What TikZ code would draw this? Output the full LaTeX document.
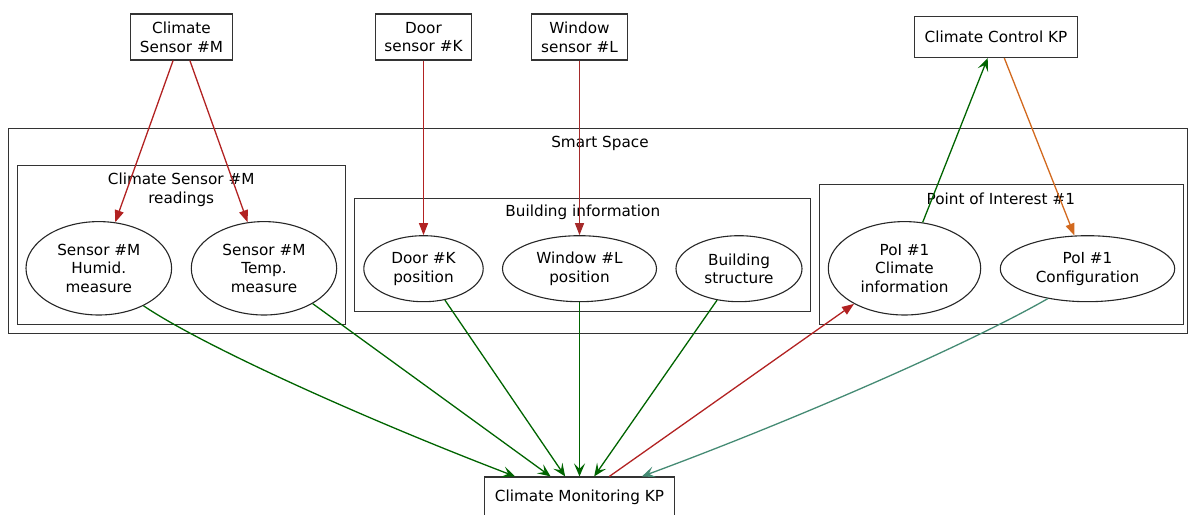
\documentclass[tikz,border=0pt]{standalone}
\usepackage{fontspec}
\setmainfont{DejaVu Sans}
\usetikzlibrary{arrows.meta,shapes.geometric}

\definecolor{firered}{HTML}{B22222}
\definecolor{brownred}{HTML}{A52A2A}
\definecolor{dkgreen}{HTML}{006400}
\definecolor{orng}{HTML}{D2691E}
\definecolor{aquagreen}{HTML}{458B74}

\begin{document}
\begin{tikzpicture}[x=1bp,y=-1bp,
  every node/.style={font=\fontsize{15.3}{18.8}\selectfont},
  kpbox/.style={draw=black!80, line width=1.1bp, rectangle, inner sep=0pt, align=center},
  datum/.style={draw=black!85, line width=1.1bp, ellipse, inner sep=0pt, align=center},
  cluster/.style={draw=black!80, line width=1.1bp},
  flow/.style={line width=1.3bp},
  tri/.style={-{Triangle[length=12bp,width=9bp]}},
  veetip/.style={-{Stealth[length=13bp,width=11bp,inset=5.5bp]}},
]
\useasboundingbox (0,0) rectangle (1188,515);

% clusters
\draw[cluster] (8.5,128.5) rectangle (1187.5,333.5);
\node (sslabel) at (600,143.5) {Smart Space};
\draw[cluster] (17.5,165.5) rectangle (345.5,324.5);
\node[align=center] (cslabel) at (181.2,190) {Climate Sensor \#M\\readings};
\draw[cluster] (354.5,198.5) rectangle (810.5,311.5);
\node (bilabel) at (582.8,212) {Building information};
\draw[cluster] (819.5,184.5) rectangle (1183.5,324.5);
\node (poilabel) at (1000.8,199) {Point of Interest \#1};

% knowledge processors and sensors
\node[kpbox, minimum width=102bp, minimum height=46bp] (cs) at (181.5,37) {Climate\\Sensor \#M};
\node[kpbox, minimum width=96bp, minimum height=46bp] (ds) at (423.5,37) {Door\\sensor \#K};
\node[kpbox, minimum width=96bp, minimum height=46bp] (ws) at (579.5,37) {Window\\sensor \#L};
\node[kpbox, minimum width=163bp, minimum height=41bp] (cc) at (996,37) {Climate Control KP};
\node[kpbox, minimum width=190bp, minimum height=41bp] (cm) at (579.5,497.5) {Climate Monitoring KP};

% information items
\node[datum, minimum width=145.6bp, minimum height=93.4bp] (hum) at (98.8,268.3) {Sensor \#M\\Humid.\\measure};
\node[datum, minimum width=145.4bp, minimum height=93.4bp] (tmp) at (264,268.3) {Sensor \#M\\Temp.\\measure};
\node[datum, minimum width=119.4bp, minimum height=66bp] (dp) at (423.5,268.7) {Door \#K\\position};
\node[datum, minimum width=154bp, minimum height=66bp] (wp) at (579.5,268.7) {Window \#L\\position};
\node[datum, minimum width=126bp, minimum height=66bp] (bs) at (739,268.7) {Building\\structure};
\node[datum, minimum width=152.4bp, minimum height=93.4bp] (pci) at (904.5,268.3) {PoI \#1\\Climate\\information};
\node[datum, minimum width=174.4bp, minimum height=66bp] (pcf) at (1087.5,268.7) {PoI \#1\\Configuration};

% sensor updates
\draw[flow, tri, color=firered] (cs) -- (hum);
\draw[flow, tri, color=firered] (cs) -- (tmp);
\draw[flow, tri, color=firered] (ds) -- (dp);
\draw[flow, tri, color=brownred] (ws) -- (wp);

% subscriptions of the monitoring KP
\draw[flow, veetip, color=dkgreen] (hum.-40.6) .. controls (203,346) and (365,419) .. ([xshift=-64.3bp]cm.north);
\draw[flow, veetip, color=dkgreen] (tmp) -- (cm);
\draw[flow, veetip, color=dkgreen] (dp) -- (cm);
\draw[flow, veetip, color=dkgreen] (wp) -- (cm);
\draw[flow, veetip, color=dkgreen] (bs) -- (cm);
\draw[flow, tri, color=firered] (cm) -- (pci);
\draw[flow, veetip, color=aquagreen] (pcf.-143.6) .. controls (967,345) and (792,421) .. ([xshift=62.4bp]cm.north);

% climate control loop
\draw[flow, veetip, color=dkgreen] (pci) -- (cc);
\draw[flow, tri, color=orng] (cc) -- (pcf);
\end{tikzpicture}
\end{document}
